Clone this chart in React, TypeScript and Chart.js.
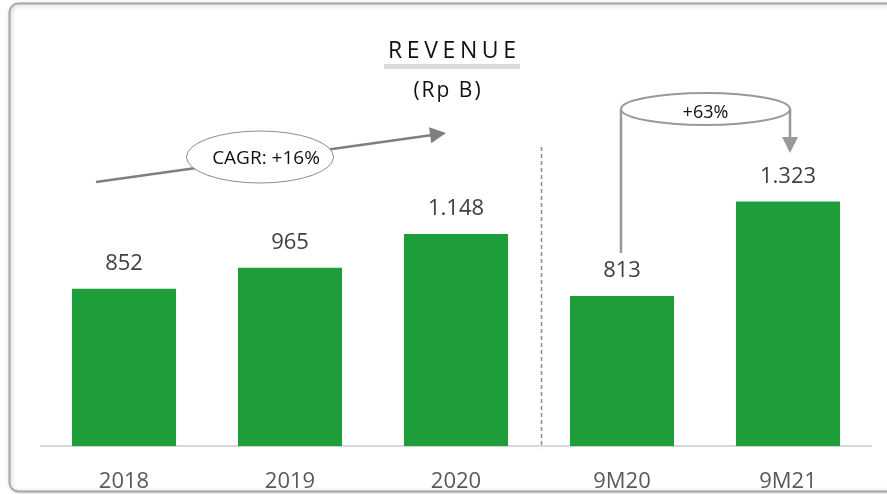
import React, { useEffect, useRef } from "react";
import { Chart, registerables } from "chart.js";

Chart.register(...registerables);

const categories = ["2018", "2019", "2020", "9M20", "9M21"];
const revenue = [852, 965, 1148, 813, 1323];
const titleText = "REVENUE";
const subtitleText = "(Rp B)";
const cagrText = "CAGR: +16%";
const growthText = "+63%";

const FONT = "'Open Sans', sans-serif";
const fmt = (v: number) => v.toString().replace(/\B(?=(\d{3})+(?!\d))/g, ".");

function drawSpacedCentered(ctx: CanvasRenderingContext2D, text: string, cx: number, y: number, spacing: number) {
  (ctx as any).letterSpacing = spacing + "px";
  const w = ctx.measureText(text).width - spacing;
  ctx.textAlign = "left";
  ctx.fillText(text, cx - w / 2, y);
  (ctx as any).letterSpacing = "0px";
}

function ellipse(ctx: CanvasRenderingContext2D, cx: number, cy: number, rx: number, ry: number, stroke: string, lw: number) {
  ctx.beginPath();
  ctx.ellipse(cx, cy, rx, ry, 0, 0, Math.PI * 2);
  ctx.fillStyle = "#ffffff";
  ctx.fill();
  ctx.strokeStyle = stroke;
  ctx.lineWidth = lw;
  ctx.stroke();
}

function arrowHead(ctx: CanvasRenderingContext2D, x1: number, y1: number, x2: number, y2: number, len: number, half: number, color: string) {
  const a = Math.atan2(y2 - y1, x2 - x1);
  ctx.beginPath();
  ctx.moveTo(x2, y2);
  ctx.lineTo(x2 - len * Math.cos(a) + half * Math.sin(a), y2 - len * Math.sin(a) - half * Math.cos(a));
  ctx.lineTo(x2 - len * Math.cos(a) - half * Math.sin(a), y2 - len * Math.sin(a) + half * Math.cos(a));
  ctx.closePath();
  ctx.fillStyle = color;
  ctx.fill();
}

const decorPlugin = {
  id: "decor",
  beforeDraw(chart: any) {
    const ctx = chart.ctx as CanvasRenderingContext2D;
    ctx.save();
    ctx.fillStyle = "#ffffff";
    ctx.fillRect(0, 0, chart.width, chart.height);
    ctx.shadowColor = "rgba(0,0,0,0.25)";
    ctx.shadowBlur = 4;
    ctx.shadowOffsetX = 1;
    ctx.shadowOffsetY = 1;
    ctx.beginPath();
    (ctx as any).roundRect(9.5, 3.5, chart.width + 20, chart.height - 6, 9);
    ctx.strokeStyle = "#a6a6a6";
    ctx.lineWidth = 2;
    ctx.stroke();
    ctx.restore();
  },
  afterDraw(chart: any) {
    const ctx = chart.ctx as CanvasRenderingContext2D;
    const bars = chart.getDatasetMeta(0).data;
    const area = chart.chartArea;
    ctx.save();
    // title
    ctx.fillStyle = "#111111";
    ctx.textBaseline = "alphabetic";
    ctx.font = `23px ${FONT}`;
    const tcx = (bars[2].x + bars[3].x) / 2 - 87;
    drawSpacedCentered(ctx, titleText, tcx, 57.5, 4.6);
    ctx.fillStyle = "#d9d9d9";
    ctx.fillRect(tcx - 68, 64, 136, 5);
    ctx.fillStyle = "#111111";
    ctx.font = `21px ${FONT}`;
    drawSpacedCentered(ctx, subtitleText, tcx - 5, 97, 2);

    // value labels
    ctx.font = `22px ${FONT}`;
    ctx.fillStyle = "#404040";
    ctx.textAlign = "center";
    bars.forEach((b: any, i: number) => {
      ctx.fillText(fmt(revenue[i]), b.x, b.y - 18.5);
    });

    // dashed separator
    const sx = Math.round((bars[2].x + bars[3].x) / 2 + 2) + 0.5;
    ctx.beginPath();
    ctx.setLineDash([4, 3]);
    ctx.moveTo(sx, 147);
    ctx.lineTo(sx, area.bottom + 2);
    ctx.strokeStyle = "#8c8c8c";
    ctx.lineWidth = 1.5;
    ctx.stroke();
    ctx.setLineDash([]);

    // CAGR arrow
    const gray = "#7f7f7f";
    const x1 = bars[0].x - 28, y1 = 182;
    const x2 = bars[2].x - 10, y2 = 133;
    ctx.beginPath();
    ctx.moveTo(x1, y1);
    const a = Math.atan2(y2 - y1, x2 - x1);
    ctx.lineTo(x2 - 12 * Math.cos(a), y2 - 12 * Math.sin(a));
    ctx.strokeStyle = gray;
    ctx.lineWidth = 2.5;
    ctx.stroke();
    arrowHead(ctx, x1, y1, x2, y2, 16, 8, gray);
    const ecx = (bars[0].x + bars[1].x) / 2 + 53;
    ellipse(ctx, ecx, 157, 73.5, 26, "#8c8c8c", 1);
    ctx.font = `19px ${FONT}`;
    ctx.fillStyle = "#111111";
    ctx.textAlign = "center";
    ctx.textBaseline = "middle";
    ctx.fillText(cagrText, ecx + 6, 159);

    // +63% bracket
    const lx = bars[3].x - 1, rx = bars[4].x + 2;
    const cy = 109;
    ctx.strokeStyle = "#999999";
    ctx.lineWidth = 2.5;
    ctx.beginPath();
    ctx.moveTo(lx, cy);
    ctx.lineTo(lx, 253);
    ctx.moveTo(rx, cy);
    ctx.lineTo(rx, 139);
    ctx.stroke();
    arrowHead(ctx, rx, cy, rx, 153, 16, 8, "#999999");
    ellipse(ctx, (lx + rx) / 2, cy, (rx - lx) / 2, 16, "#999999", 2);
    ctx.font = `18px ${FONT}`;
    ctx.fillStyle = "#111111";
    ctx.fillText(growthText, (lx + rx) / 2, 113);
    ctx.restore();
  },
};

export default function App() {
  const ref = useRef<HTMLCanvasElement | null>(null);
  useEffect(() => {
    if (!ref.current) return;
    const chart = new Chart(ref.current, {
      type: "bar",
      data: {
        labels: categories,
        datasets: [
          {
            data: revenue,
            backgroundColor: "#1e9e3b",
            borderWidth: 0,
            categoryPercentage: 1,
            barPercentage: 0.627,
          },
        ],
      },
      options: {
        responsive: false,
        animation: false,
        devicePixelRatio: 1,
        layout: { padding: { left: 41, right: 16, top: 76.4, bottom: -23.2 } },
        plugins: { legend: { display: false }, tooltip: { enabled: false }, title: { display: false } },
        scales: {
          y: { display: false, min: 0, max: 2000 },
          x: {
            grid: { display: false, drawTicks: false },
            border: { display: true, color: "#d9d9d9", width: 2 },
            ticks: { padding: 22.3, color: "#595959", font: { family: "'Open Sans', sans-serif", size: 22 } },
          },
        },
      },
      plugins: [decorPlugin],
    });
    return () => chart.destroy();
  }, []);
  return (
    <div style={{ position: "fixed", left: 0, top: 0, width: 887, height: 494, background: "#fff" }}>
      <canvas ref={ref} width={887} height={494} style={{ display: "block", width: 887, height: 494 }} />
    </div>
  );
}
